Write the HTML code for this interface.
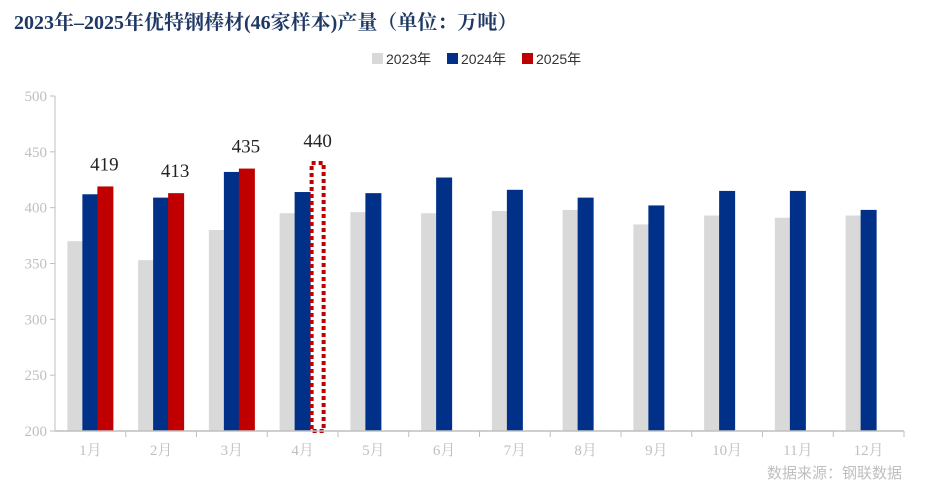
<!DOCTYPE html>
<html><head><meta charset="utf-8">
<style>
body{margin:0;background:#fff;font-family:"Liberation Serif","Noto Serif CJK SC",serif;}
#wrap{position:relative;width:938px;height:496px;overflow:hidden;}
</style></head>
<body>
<div id="wrap">
<svg id="chart" width="938" height="496" xmlns="http://www.w3.org/2000/svg">
<text x="14" y="29" font-size="20" font-weight="bold" fill="#1f3864" font-family="'Liberation Serif','Noto Serif CJK SC',serif">2023年–2025年优特钢棒材(46家样本)产量（单位：万吨）</text>
<g>
<g><rect x="372" y="53" width="11" height="11" fill="#d9d9d9"/><text x="386" y="64" font-size="14" fill="#333" font-family="'Liberation Sans','Noto Sans CJK SC',sans-serif">2023年</text></g>
<g><rect x="447" y="53" width="11" height="11" fill="#003087"/><text x="461" y="64" font-size="14" fill="#333" font-family="'Liberation Sans','Noto Sans CJK SC',sans-serif">2024年</text></g>
<g><rect x="522" y="53" width="11" height="11" fill="#c00000"/><text x="536" y="64" font-size="14" fill="#333" font-family="'Liberation Sans','Noto Sans CJK SC',sans-serif">2025年</text></g>
</g>
<g id="plot"></g>
<text x="902" y="478" text-anchor="end" font-size="15" fill="#bfbfbf" font-family="'Liberation Sans','Noto Sans CJK SC',sans-serif">数据来源：钢联数据</text>
</svg>
</div>
<script>
const categories=["1月","2月","3月","4月","5月","6月","7月","8月","9月","10月","11月","12月"];
const values2023=[370,353,380,395,396,395,397,398,385,393,391,393];
const values2024=[412,409,432,414,413,427,416,409,402,415,415,398];
const values2025=[419,413,435];
const forecast2025=[null,null,null,440];
const yTicks=[200,250,300,350,400,450,500];

const NS="http://www.w3.org/2000/svg";
const g=document.getElementById("plot");
const x0=55,x1=904,yMin=200,yMax=500,py0=431,py1=96;
const bw=(x1-x0)/categories.length;
const y=v=>py0-(v-yMin)/(yMax-yMin)*(py0-py1);
const xc=i=>x0+bw*(i+0.5);
function mk(tag,attrs){const e=document.createElementNS(NS,tag);for(const k in attrs)e.setAttribute(k,attrs[k]);g.appendChild(e);return e;}

let ax=mk("line",{x1:x0,y1:py1,x2:x0,y2:py0,stroke:"#bfbfbf"});


yTicks.forEach(t=>{
  const tk=mk("line",{x1:x0-5,y1:y(t),x2:x0,y2:y(t),stroke:"#bfbfbf"});
  
  
  const tl=mk("text",{x:x0-8,y:y(t)+5,"text-anchor":"end","font-size":15,fill:"#bfbfbf"});
  tl.textContent=t;
  
  
});
const bW=16;
categories.forEach((c,i)=>{
  const cx=xc(i);
  const r1=mk("rect",{x:cx-15-bW/2,y:y(values2023[i]),width:bW,height:py0-y(values2023[i]),fill:"#d9d9d9"});
  
  
  const r2=mk("rect",{x:cx-bW/2,y:y(values2024[i]),width:bW,height:py0-y(values2024[i]),fill:"#003087"});
  
  
  if(values2025[i]!=null){
    const r3=mk("rect",{x:cx+15-bW/2,y:y(values2025[i]),width:bW,height:py0-y(values2025[i]),fill:"#c00000"});
    
    
    const lb=mk("text",{x:cx+14,y:y(values2025[i])-16,"text-anchor":"middle","font-size":19,fill:"#222"});
    lb.textContent=values2025[i];
    
    
  }
  if(forecast2025[i]!=null){
    const r4=mk("rect",{x:cx+15-bW/2+2,y:y(forecast2025[i]),width:bW-4,height:py0-y(forecast2025[i]),fill:"none",stroke:"#c00000","stroke-width":4,"stroke-dasharray":"4 3"});
    
    
    const lb=mk("text",{x:cx+15,y:y(forecast2025[i])-16,"text-anchor":"middle","font-size":19,fill:"#222"});
    lb.textContent=forecast2025[i];
    
    
  }
  const tk=mk("line",{x1:x0+bw*(i+1),y1:py0,x2:x0+bw*(i+1),y2:py0+6,stroke:"#bfbfbf"});
  
  
  const tl=mk("text",{x:cx,y:py0+24,"text-anchor":"middle","font-size":15,fill:"#bfbfbf"});
  tl.textContent=c;
  
  
});
const xa=mk("line",{x1:x0,y1:py0,x2:x1,y2:py0,stroke:"#bfbfbf","stroke-width":1.5});


</script>
</body></html>
